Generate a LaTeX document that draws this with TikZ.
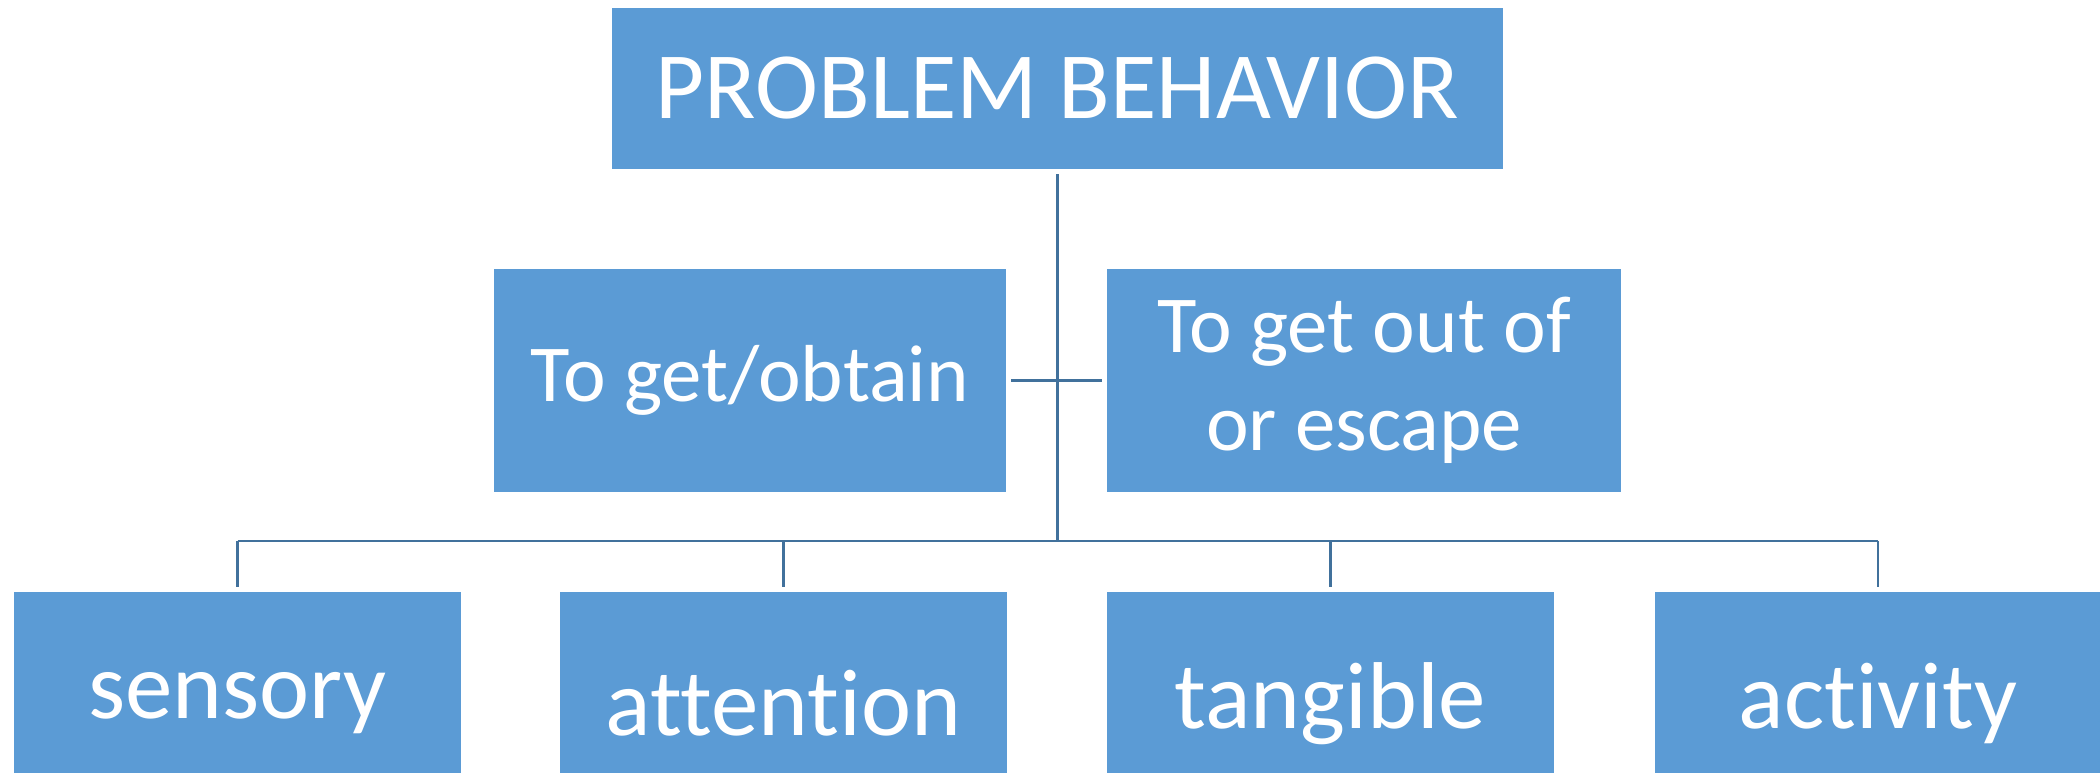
\documentclass[tikz,border=0pt]{standalone}
\usepackage{fontspec}
\setmainfont{Carlito}[Ligatures = {NoCommon, NoContextual}]
\usetikzlibrary{positioning}
\definecolor{boxblue}{HTML}{5B9BD5}
\definecolor{linkblue}{HTML}{41719C}
\newcommand{\boxwd}{4.48cm}
\newcommand{\boxht}{2.25cm}

\begin{document}
\begin{tikzpicture}[x = 0.01cm, y = -0.01cm, every node/.style = {rectangle, draw = white, line width = 0.4pt, fill = boxblue, text = white, inner sep = 0pt, align = center}, link/.style = {draw = linkblue, line width = 0.75pt}]
	\clip (0, 0) rectangle (2100, 773);
	\node (pb) at (1057.5, 88.5) [minimum width = 8.91cm, minimum height = 1.63cm, font = \fontsize{27}{32}\selectfont] {PROBLEM BEHAVIOR};
	\node (get) at (750, 380.5) [minimum width = 5.14cm, minimum height = \boxht, font = \fontsize{23}{28}\selectfont] {To get/obtain};
	\node (escape) at (1364, 380.5) [minimum width = 5.16cm, minimum height = \boxht, font = \fontsize{23}{28}\selectfont] {To get out of\\or escape};
	\foreach \name/\xpos in {sensory/237.5, attention/783.5, tangible/1330.5, activity/1878}
		\node (\name) at (\xpos, 703.5) [minimum width = \boxwd, minimum height = \boxht, font = \fontsize{27}{32}\selectfont] {\name};

	\coordinate (bus) at (1058, 541);
	\path[link] (pb.south) edge [shorten < = 1pt] (pb.south |- bus);
	\path[link] (get.east) edge [shorten < = 1pt, shorten > = 1pt] (escape.west);
	\path[link] (bus -| sensory.north) edge (bus -| activity.north);
	\foreach \name in {sensory, attention, tangible, activity}
		\path[link] (bus -| \name.north) edge [shorten > = 1pt] (\name.north);
\end{tikzpicture}
\end{document}
